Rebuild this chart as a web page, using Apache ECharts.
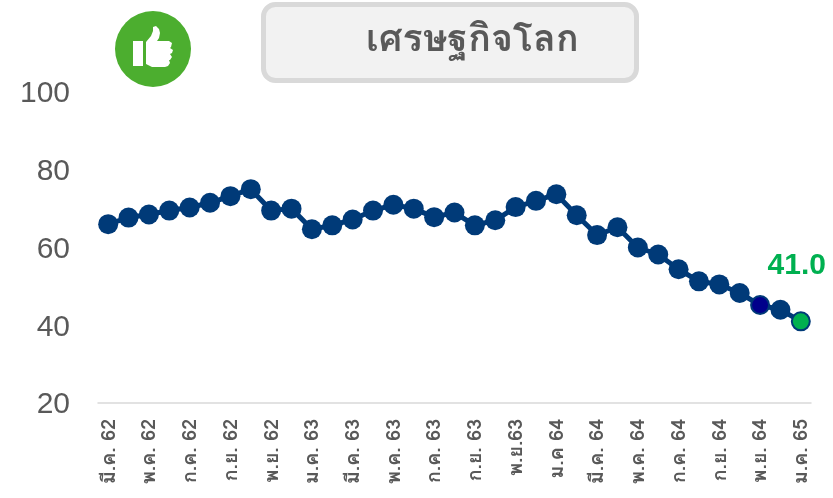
<!DOCTYPE html>
<html><head><meta charset="utf-8">
<style>html,body{margin:0;padding:0;background:#fff}#c{width:833px;height:498px}</style>
<script src="https://cdn.jsdelivr.net/npm/echarts@6/dist/echarts.min.js"></script>
</head><body><div id="c"></div>
<script>
const categories = ['มี.ค. 62','เม.ย. 62','พ.ค. 62','มิ.ย. 62','ก.ค. 62','ส.ค. 62','ก.ย. 62','ต.ค. 62','พ.ย. 62','ธ.ค. 62','ม.ค. 63','ก.พ. 63','มี.ค. 63','เม.ย. 63','พ.ค. 63','มิ.ย. 63','ก.ค. 63','ส.ค. 63','ก.ย. 63','ต.ค. 63','พ.ย.63','ธ.ค. 63','ม.ค 64','ก.พ. 64','มี.ค. 64','เม.ย. 64','พ.ค. 64','มิ.ย. 64','ก.ค. 64','ส.ค. 64','ก.ย. 64','ต.ค. 64','พ.ย. 64','ธ.ค. 64','ม.ค. 65'];
const values = [66,67.7,68.5,69.5,70.3,71.5,73.2,75,69.5,70,64.7,65.7,67.2,69.5,71,70,67.8,69,65.7,67,70.4,72,73.7,68.3,63.2,65.2,60,58.2,54.4,51.3,50.5,48.3,45.2,44,41];
const yTicks = [20,40,60,80,100];
const title = 'เศรษฐกิจโลก';
const lastLabel = '41.0';
const navyIndex = 32, lastIndex = 34;
const thumbPalm = [[133,41],[143,41],[143,66],[133,66]];
const thumbHand = [[146,42],[151,36],[153,31],[153,27],[156,26],[159,29],[160,33],[159,38],[157,41],[169,41],[172,43],[171,47],[170,48],[173,50],[172,53],[170,54],[172,57],[170,60],[169,60],[170,63],[168,66],[165,67],[152,67],[146,64]];
const thaiFont = '"Loma","Tahoma","Noto Sans Thai Looped","Liberation Sans","DejaVu Sans","Noto Sans",sans-serif';
const chart = echarts.init(document.getElementById('c'),null,{renderer:'canvas'});
chart.setOption({
  animation:false,
  grid:{left:98,right:22,top:92,bottom:95,containLabel:false},
  xAxis:{type:'category',data:categories,boundaryGap:true,
    axisLine:{lineStyle:{color:'#d9d9d9',width:1.5}},axisTick:{show:false},
    axisLabel:{interval:1,rotate:90,color:'#595959',fontSize:19.5,fontWeight:'bold',fontFamily:thaiFont,margin:16,align:'right',verticalAlign:'top',lineHeight:4}},
  yAxis:{type:'value',min:yTicks[0],max:yTicks[yTicks.length-1],interval:20,
    axisLine:{show:false},axisTick:{show:false},splitLine:{show:false},
    axisLabel:{color:'#595959',fontSize:30,fontFamily:'"Liberation Sans",Arial,sans-serif',margin:28,verticalAlign:'top',lineHeight:4}},
  series:[{type:'line',data:values.map((v,i)=>{
      if(i===navyIndex) return {value:v,itemStyle:{color:'#00008b',borderColor:'#003a78',borderWidth:2},symbolSize:18};
      if(i===lastIndex) return {value:v,itemStyle:{color:'#00b050',borderColor:'#003a78',borderWidth:2},symbolSize:18,
        label:{show:true,formatter:lastLabel,position:'top',offset:[-4,-26],color:'#00b050',fontSize:30,fontWeight:'bold',fontFamily:'"Liberation Sans",Arial,sans-serif'}};
      return v;}),
    symbol:'circle',symbolSize:20,showSymbol:true,showAllSymbol:true,
    lineStyle:{color:'#003a78',width:5},itemStyle:{color:'#003a78'},z:3}],
  graphic:[
    {type:'circle',shape:{cx:153,cy:49,r:38},style:{fill:'#4cae2f'},silent:true},
    {type:'polygon',shape:{points:thumbPalm},style:{fill:'#fff'},silent:true},
    {type:'polygon',shape:{points:thumbHand},style:{fill:'#fff'},silent:true},
    {type:'rect',shape:{x:263.5,y:4.5,width:373,height:76,r:12},style:{fill:'#f2f2f2',stroke:'#d9d9d9',lineWidth:5},silent:true},
    {type:'text',x:366,y:24,style:{text:title,fill:'#595959',fontSize:37.5,fontWeight:'bold',fontFamily:thaiFont},silent:true}
  ]
});
</script></body></html>
